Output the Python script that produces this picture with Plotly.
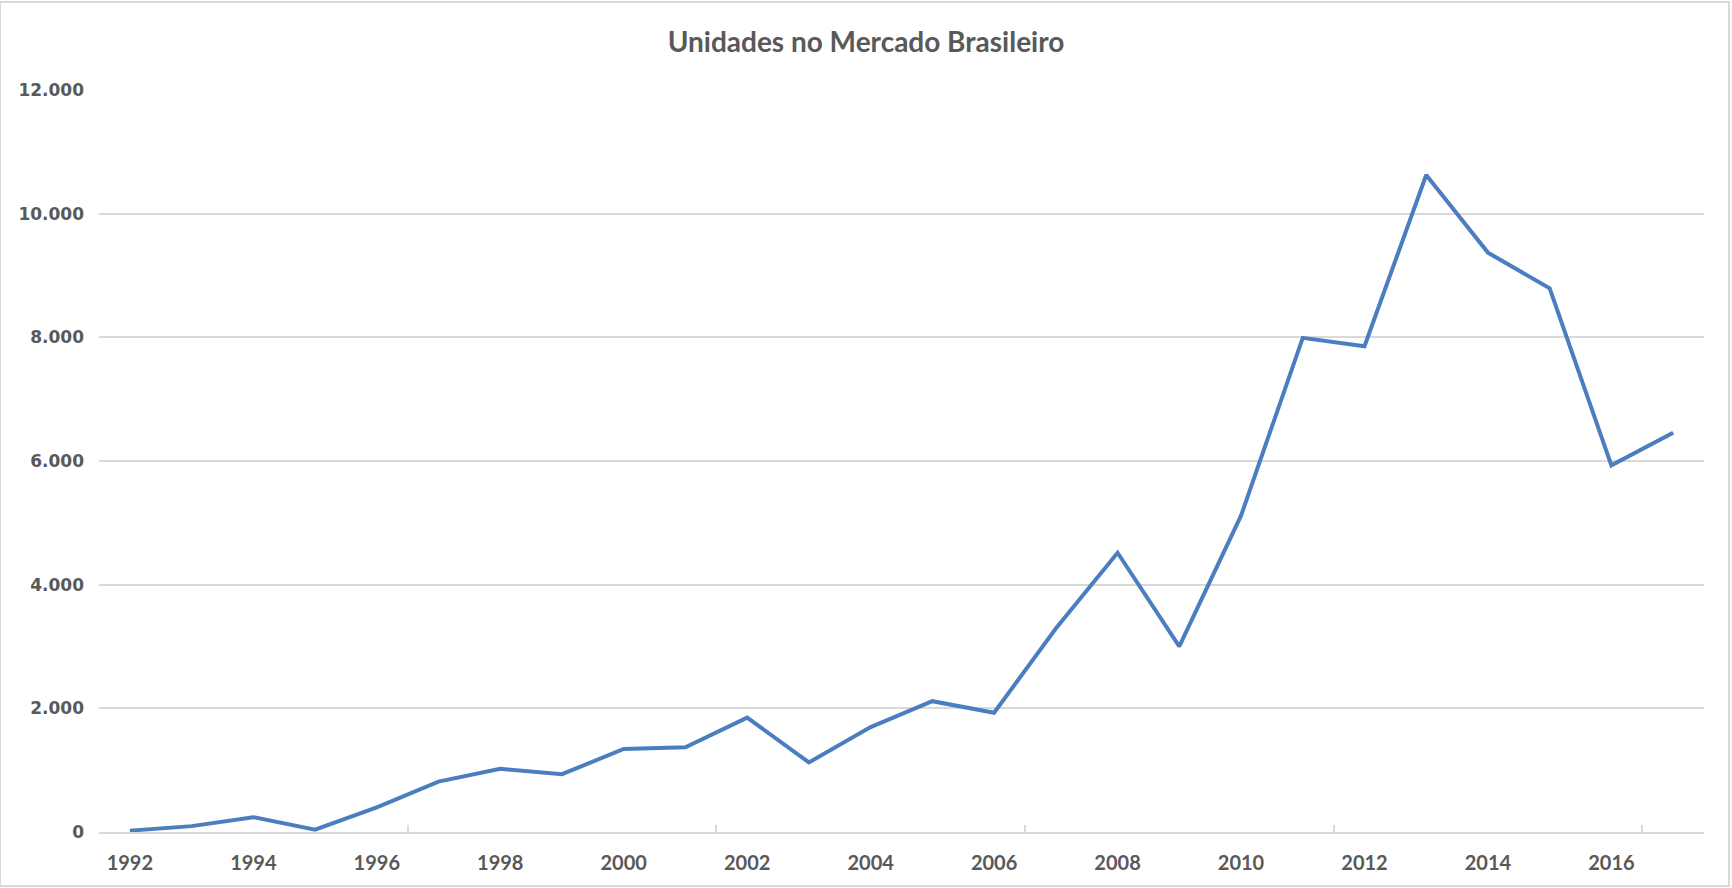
import plotly.graph_objects as go

years = list(range(1992, 2018))
unidades = [22, 95, 240, 38, 400, 815, 1022, 935, 1342, 1370, 1850, 1125,
            1697, 2116, 1928, 3290, 4516, 3002, 5115, 7991, 7855, 10625,
            9370, 8792, 5929, 6457]

x_label_years = list(range(1992, 2017, 2))
x_boundary_ticks = [1991.5, 1996.5, 2001.5, 2006.5, 2011.5, 2016.5]
y_tick_vals = [0, 2000, 4000, 6000, 8000, 10000, 12000]
y_tick_text = ["0", "2.000", "4.000", "6.000", "8.000", "10.000", "12.000"]

title_text = "Unidades no Mercado Brasileiro"

gray = "#595959"
grid = "#d9d9d9"

fig = go.Figure()
fig.add_trace(go.Scatter(
    x=years, y=unidades, mode="lines",
    line=dict(color="#4a7ebf", width=4),
    hoverinfo="x+y", showlegend=False,
))
# invisible trace to activate the boundary tick axis
fig.add_trace(go.Scatter(
    x=[years[0]], y=[None], xaxis="x2", mode="lines",
    showlegend=False, hoverinfo="skip",
))

fig.update_layout(
    width=1732, height=888,
    margin=dict(l=99, r=28, t=90, b=56, pad=0),
    paper_bgcolor="white", plot_bgcolor="white",
    title=dict(text=title_text, x=0.5, xanchor="center", y=1 - 42 / 888,
               yanchor="middle",
               font=dict(family="Lato, 'Open Sans', sans-serif", size=28,
                         color=gray, weight="bold")),
    xaxis=dict(
        range=[1991.5, 2017.5], tickmode="array", tickvals=x_label_years,
        ticktext=[str(v) for v in x_label_years], ticks="", showgrid=False,
        zeroline=False, showline=True, linecolor=grid, linewidth=1.5,
        tickfont=dict(family="Lato, sans-serif",
                      size=20, color=gray, weight="bold"),
        ticklabelstandoff=12,
    ),
    xaxis2=dict(
        range=[1991.5, 2017.5], overlaying="x", anchor="y", side="bottom",
        tickmode="array", tickvals=x_boundary_ticks, ticks="inside",
        ticklen=7, tickcolor=grid, tickwidth=1.5, showticklabels=False,
        showgrid=False, zeroline=False, showline=False,
    ),
    yaxis=dict(
        range=[0, 12000], tickmode="array", tickvals=y_tick_vals,
        ticktext=y_tick_text, showgrid=True, gridcolor=grid, gridwidth=1.5,
        zeroline=False, showline=False, ticks="",
        tickfont=dict(family="'DejaVu Sans', sans-serif", size=17,
                      color=gray, weight="bold"),
        ticklabelstandoff=14,
    ),
    shapes=[dict(type="rect", xref="paper", yref="paper",
                 x0=-99 / 1605, x1=1 + 25 / 1605, y0=-54 / 742, y1=1 + 88 / 742,
                 line=dict(color=grid, width=2), fillcolor="rgba(0,0,0,0)",
                 layer="below")],
)

fig.write_html("out.html")
